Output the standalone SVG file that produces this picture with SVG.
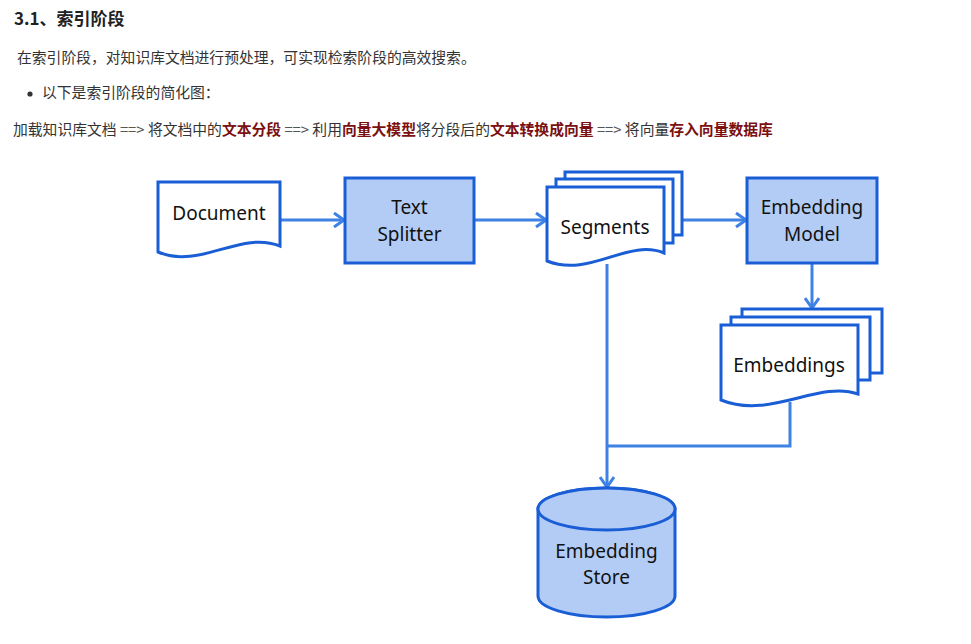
<svg xmlns="http://www.w3.org/2000/svg" width="971" height="644" viewBox="0 0 971 644">
<defs>
<style>
.cjk{font-family:"Noto Sans CJK SC","Noto Sans",sans-serif;fill:#333}
.h{font-size:17px;font-weight:bold;fill:#222}
.p{font-size:14.8px}
.b{font-weight:bold;fill:#7a1010}
.g{fill:#555}
.shape{fill:#fff;stroke:#1a5ed6;stroke-width:3;stroke-linejoin:miter}
.fill{fill:#b3ccf5}
.lbl{font-family:"Noto Sans","Open Sans",sans-serif;font-size:19px;fill:#111;text-anchor:middle}
.conn{fill:none;stroke:#3d82e4;stroke-width:3}
</style>
<marker id="arr" markerUnits="userSpaceOnUse" markerWidth="14" markerHeight="16" refX="12" refY="8" orient="auto">
<path d="M2,1 L12,8 L2,15" fill="none" stroke="#3d82e4" stroke-width="3"/>
</marker>
</defs>
<rect width="971" height="644" fill="#fff"/>
<g id="header">
<text class="cjk h" x="14" y="25">3.1、索引阶段</text>
<text class="cjk p" x="17" y="63">在索引阶段，对知识库文档进行预处理，可实现检索阶段的高效搜索。</text>
<circle cx="30" cy="94" r="2.6" fill="#333"/>
<text class="cjk p" x="42" y="98">以下是索引阶段的简化图：</text>
<text class="cjk p" x="13" y="135">加载知识库文档<tspan class="g"> ==&gt; </tspan>将文档中的<tspan class="b">文本分段</tspan><tspan class="g"> ==&gt; </tspan>利用<tspan class="b">向量大模型</tspan>将分段后的<tspan class="b">文本转换成向量</tspan><tspan class="g"> ==&gt; </tspan>将向量<tspan class="b">存入向量数据库</tspan></text>
</g>
<g id="connectors">
<line class="conn" x1="280" y1="220" x2="344" y2="220" marker-end="url(#arr)"/>
<line class="conn" x1="474" y1="220" x2="546" y2="220" marker-end="url(#arr)"/>
<line class="conn" x1="682" y1="220" x2="746" y2="220" marker-end="url(#arr)"/>
<line class="conn" x1="812" y1="263" x2="812" y2="308" marker-end="url(#arr)"/>
<line class="conn" x1="607" y1="264" x2="607" y2="487" marker-end="url(#arr)"/>
<polyline class="conn" points="790,402 790,446 607,446"/>
</g>
<g id="document">
<path class="shape" d="M158,182 H280 V246 C240,230 200,270 158,252 Z"/>
<text class="lbl" x="219" y="220">Document</text>
</g>
<g id="text-splitter">
<rect class="shape fill" x="345" y="178" width="129" height="85"/>
<text class="lbl" x="409.5" y="214">Text</text>
<text class="lbl" x="409.5" y="241">Splitter</text>
</g>
<g id="segments">
<rect class="shape" x="565" y="172" width="117" height="63"/>
<rect class="shape" x="556" y="179" width="117" height="64"/>
<path class="shape" d="M547,187 H664 V253 C628,238 590,278 547,261 Z"/>
<text class="lbl" x="605" y="234">Segments</text>
</g>
<g id="embedding-model">
<rect class="shape fill" x="747" y="178" width="130" height="85"/>
<text class="lbl" x="812" y="214">Embedding</text>
<text class="lbl" x="812" y="241">Model</text>
</g>
<g id="embeddings">
<rect class="shape" x="742" y="309" width="140" height="64"/>
<rect class="shape" x="731" y="317" width="139" height="63"/>
<path class="shape" d="M721,325 H858 V394 C818,380 770,420 721,400 Z"/>
<text class="lbl" x="789" y="372">Embeddings</text>
</g>
<g id="embedding-store">
<path class="shape fill" d="M538,509 V596 A68.5,21 0 0 0 675,596 V509 A68.5,21 0 0 0 538,509 Z"/>
<ellipse class="shape fill" cx="606.5" cy="509" rx="68.5" ry="21"/>
<text class="lbl" x="606.5" y="558">Embedding</text>
<text class="lbl" x="606.5" y="584">Store</text>
</g>
</svg>
